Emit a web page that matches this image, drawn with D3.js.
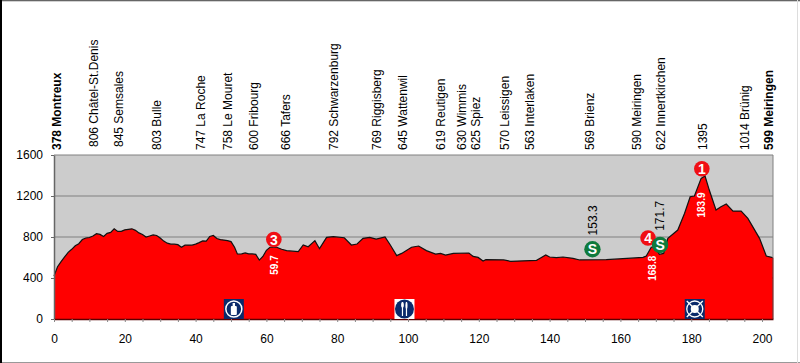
<!DOCTYPE html>
<html>
<head>
<meta charset="utf-8">
<script src="https://cdn.jsdelivr.net/npm/d3@7"></script>
<style>
    html, body { margin: 0; padding: 0; background: #fff; }
    svg { display: block; font-family: "Liberation Sans", Arial, sans-serif; }
</style>
</head>
<body>
<div id="chart"></div>
<script>
// profile: km / altitude
const profileKm = [0,1,2,3,4,5,6,7,8,9,10,11,12,13,14,15,16,17,18,19,20,21,22,23,24,25,26,27,28,29,30,31,32,33,34,35,36,37,38,39,40,41,42,43,44,45,46,47,48,49,50,51,51.8,53,54,55,56,57,58,59,60,61,62.9,64.3,65.7,69,70.4,71.8,73.7,75,77,78.9,82,84,85.6,87.3,89.2,91,93.5,95,96.8,98.2,101,103,105.2,107.8,109.2,110.6,112.8,117.2,118.4,119.8,121.2,122,127,129,136.3,137.2,138.9,140,141.9,143.8,146.6,148.5,156,160.7,166.4,167.3,168.7,169.7,171,172.2,173.4,176.2,178.1,179.7,180.9,182.8,183.9,185.1,187,188.4,189.9,191.8,194.1,196,199.3,201.2,203];
const profileAlt = [420,510,560,605,650,680,715,735,775,790,795,810,832,825,805,835,845,880,855,855,870,875,880,865,840,825,800,810,820,815,790,760,740,730,730,725,700,720,722,720,730,745,762,760,805,815,785,775,770,765,755,700,634,635,645,635,635,630,575,610,670,700,700,680,667,657,722,705,765,686,797,803,793,722,732,787,797,780,800,722,618,640,700,712,667,634,640,624,640,644,611,601,566,579,576,563,572,590,624,605,598,605,592,576,579,589,601,615,700,705,630,640,787,868,1030,1193,1200,1372,1395,1258,1063,1096,1122,1053,1053,982,787,615,599];

const yTicks = [0,400,800,1200,1600];
const xTicks = [0,20,40,60,80,100,120,140,160,180,200];
const xMinor = d3.range(0, 205, 5);

// places along the top
const placeKm = [0.9,11.3,18.4,29,41.5,49,56.3,65.5,78.9,91.2,98.5,109.3,115.2,119.2,127.2,134.5,151.4,164.7,171.5,183.4,195,202];
const placeName = ["378 Montreux","806 Châtel-St.Denis","845 Semsales","803 Bulle","747 La Roche","758 Le Mouret","600 Fribourg","666 Tafers","792 Schwarzenburg","769 Riggisberg","645 Wattenwil","619 Reutigen","630 Wimmis","625 Spiez","570 Leissigen","563 Interlaken","569 Brienz","590 Meiringen","622 Innertkirchen","1395","1014 Brünig","599 Meiringen"];
const placeBold = ["378 Montreux","599 Meiringen"];
const placeRaised = ["806 Châtel-St.Denis","845 Semsales"];

// climbs: marker + km label
const climbKm = [62.1,167.8,183];
const climbAlt = [775,790,1466];
const climbCat = ["3","4","1"];
const climbLabel = ["59.7","168.8","183.9"];
const climbLabelKm = [62.4,169.1,182.9];
const climbLabelAlt = [527,495,1112];

// sprints
const sprintKm = [152.1,171.2];
const sprintAlt = [680,722];
const sprintLabel = ["153.3","171.7"];
const sprintLabelAlt = [815,860];

// feed, food and finish icons
const iconKm = [50.8,99,181];

const width = 800, height = 363;
const margin = {top: 155, right: 27, bottom: 44, left: 54};
const innerW = width - margin.left - margin.right;
const innerH = height - margin.top - margin.bottom;

const svg = d3.select("#chart").append("svg")
    .attr("width", width)
    .attr("height", height);

// picture edges
svg.append("rect").attr("x", 0).attr("y", 0).attr("width", width).attr("height", 1.3).attr("fill", "#666");
svg.append("rect").attr("x", 0).attr("y", height - 1).attr("width", width).attr("height", 1).attr("fill", "#999");
svg.append("rect").attr("x", width - 3).attr("y", 0).attr("width", 1).attr("height", height).attr("fill", "#ddd");
svg.append("rect").attr("x", 0).attr("y", 0).attr("width", 2).attr("height", height).attr("fill", "#000");

const g = svg.append("g").attr("transform", `translate(${margin.left},${margin.top})`);

const x = d3.scaleLinear().domain([0, 203.1]).range([0, innerW]);
const y = d3.scaleLinear().domain([0, 1600]).range([innerH, 0]);

g.append("rect")
    .attr("width", innerW)
    .attr("height", innerH)
    .attr("fill", "#cccccc");

// grid
g.selectAll(".grid")
    .data(yTicks.slice(1))
    .enter()
    .append("line")
    .attr("class", "grid")
    .attr("x1", 0)
    .attr("x2", innerW)
    .attr("y1", d => y(d))
    .attr("y2", d => y(d))
    .attr("stroke", "#808080")
    .attr("stroke-width", 1);

const points = profileKm.map((k, i) => [k, profileAlt[i]]);

const area = d3.area().x(d => x(d[0])).y0(y(0)).y1(d => y(d[1]));
const line = d3.line().x(d => x(d[0])).y(d => y(d[1]));

g.append("path").datum(points).attr("d", area).attr("fill", "#ff0000");
g.append("path").datum(points).attr("d", line).attr("fill", "none").attr("stroke", "#111").attr("stroke-width", 1.2);

// frame on the right, grey above the profile and dark red beside it
g.append("line").attr("x1", innerW).attr("x2", innerW).attr("y1", 0).attr("y2", y(599)).attr("stroke", "#808080");
g.append("line").attr("x1", innerW).attr("x2", innerW).attr("y1", y(599)).attr("y2", innerH).attr("stroke", "#5a0000");

// axes
const yAxis = g.append("g")
    .call(d3.axisLeft(y).tickValues(yTicks).tickSizeOuter(0).tickSizeInner(3).tickPadding(8).tickFormat(d3.format("d")));
const xAxis = g.append("g")
    .attr("transform", `translate(0,${innerH})`)
    .call(d3.axisBottom(x).tickValues(xMinor).tickSizeOuter(0).tickSizeInner(3).tickPadding(12)
        .tickFormat(d => xTicks.includes(d) ? d : ""));

yAxis.selectAll("text").attr("font-size", 12).attr("fill", "#000").attr("font-family", "Liberation Sans");
xAxis.selectAll("text").attr("font-size", 12).attr("fill", "#000").attr("font-family", "Liberation Sans");
yAxis.selectAll("path,line").attr("stroke", "#666");
yAxis.select(".domain").attr("stroke-width", 1.5);
xAxis.selectAll("line").attr("stroke", "#888");
xAxis.select(".domain").attr("stroke", "#5a0000").attr("stroke-width", 1.5);

// place names
svg.selectAll(".place")
    .data(placeName)
    .enter()
    .append("text")
    .attr("class", "place")
    .attr("transform", (d, i) => `translate(${margin.left + x(placeKm[i])},${placeRaised.includes(d) ? 147 : 150}) rotate(-90)`)
    .attr("dy", "0.35em")
    .attr("font-size", 12)
    .attr("font-weight", d => placeBold.includes(d) ? "bold" : "normal")
    .attr("fill", "#000")
    .text(d => d);

// climb markers
const climbs = g.selectAll(".climb")
    .data(climbCat)
    .enter()
    .append("g")
    .attr("class", "climb")
    .attr("transform", (d, i) => `translate(${x(climbKm[i])},${y(climbAlt[i])})`);
climbs.append("circle").attr("r", 7.8).attr("fill", "#f00f14");
climbs.append("text")
    .attr("text-anchor", "middle")
    .attr("dy", "0.36em")
    .attr("font-size", 14)
    .attr("font-weight", "bold")
    .attr("fill", "#fff")
    .text(d => d);

g.selectAll(".climbLabel")
    .data(climbLabel)
    .enter()
    .append("text")
    .attr("class", "climbLabel")
    .attr("transform", (d, i) => `translate(${x(climbLabelKm[i])},${y(climbLabelAlt[i])}) rotate(-90)`)
    .attr("text-anchor", "middle")
    .attr("dy", "0.35em")
    .attr("font-size", 10)
    .attr("font-weight", "bold")
    .attr("fill", "#fff")
    .text(d => d);

// sprint markers
const sprints = g.selectAll(".sprint")
    .data(sprintLabel)
    .enter()
    .append("g")
    .attr("class", "sprint")
    .attr("transform", (d, i) => `translate(${x(sprintKm[i])},${y(sprintAlt[i])})`);
sprints.append("circle").attr("r", 8.2).attr("fill", "#0e7a3c");
sprints.append("text")
    .attr("text-anchor", "middle")
    .attr("dy", "0.36em")
    .attr("font-size", 14)
    .attr("font-weight", "bold")
    .attr("fill", "#fff")
    .text("S");

g.selectAll(".sprintLabel")
    .data(sprintLabel)
    .enter()
    .append("text")
    .attr("class", "sprintLabel")
    .attr("transform", (d, i) => `translate(${x(sprintKm[i])},${y(sprintLabelAlt[i])}) rotate(-90)`)
    .attr("dy", "0.35em")
    .attr("font-size", 12)
    .attr("fill", "#000")
    .text(d => d);

// icons sitting on the base line
const navy = "#0b2a6b";
const icons = g.selectAll(".icon")
    .data(iconKm)
    .enter()
    .append("g")
    .attr("class", "icon")
    .attr("transform", d => `translate(${x(d)},${innerH - 10})`);

// bottle
const bottle = d3.select(icons.nodes()[0]);
bottle.append("rect").attr("x", -10).attr("y", -10).attr("width", 20).attr("height", 20).attr("fill", navy);
bottle.append("circle").attr("r", 8).attr("fill", "none").attr("stroke", "#fff").attr("stroke-width", 1.5);
bottle.append("rect").attr("x", -3).attr("y", -3).attr("width", 6).attr("height", 9).attr("rx", 1).attr("fill", "#fff");
bottle.append("rect").attr("x", -1.2).attr("y", -6).attr("width", 2.4).attr("height", 4).attr("fill", "#fff");

// fork and knife
const food = d3.select(icons.nodes()[1]);
food.append("rect").attr("x", -10).attr("y", -10).attr("width", 20).attr("height", 20).attr("fill", "#fff");
food.append("circle").attr("r", 9.5).attr("fill", navy);
food.append("line").attr("x1", -2).attr("x2", -2).attr("y1", -7).attr("y2", 7).attr("stroke", "#fff").attr("stroke-width", 1.2);
food.append("line").attr("x1", 2).attr("x2", 2).attr("y1", -7).attr("y2", 7).attr("stroke", "#fff").attr("stroke-width", 1.2);
food.append("ellipse").attr("cx", -2).attr("cy", -4).attr("rx", 1.4).attr("ry", 3).attr("fill", "#fff");
food.append("ellipse").attr("cx", 2).attr("cy", -3.5).attr("rx", 1).attr("ry", 3.5).attr("fill", "#fff");

// crossed emblem
const cross = d3.select(icons.nodes()[2]);
cross.append("rect").attr("x", -10).attr("y", -10).attr("width", 20).attr("height", 20).attr("fill", navy);
cross.append("line").attr("x1", -8).attr("x2", 8).attr("y1", -8).attr("y2", 8).attr("stroke", "#fff").attr("stroke-width", 1.3);
cross.append("line").attr("x1", -8).attr("x2", 8).attr("y1", 8).attr("y2", -8).attr("stroke", "#fff").attr("stroke-width", 1.3);
cross.append("circle").attr("r", 8).attr("fill", "none").attr("stroke", "#fff").attr("stroke-width", 1.3);
cross.append("circle").attr("r", 4).attr("fill", "#fff");
</script>
</body>
</html>
